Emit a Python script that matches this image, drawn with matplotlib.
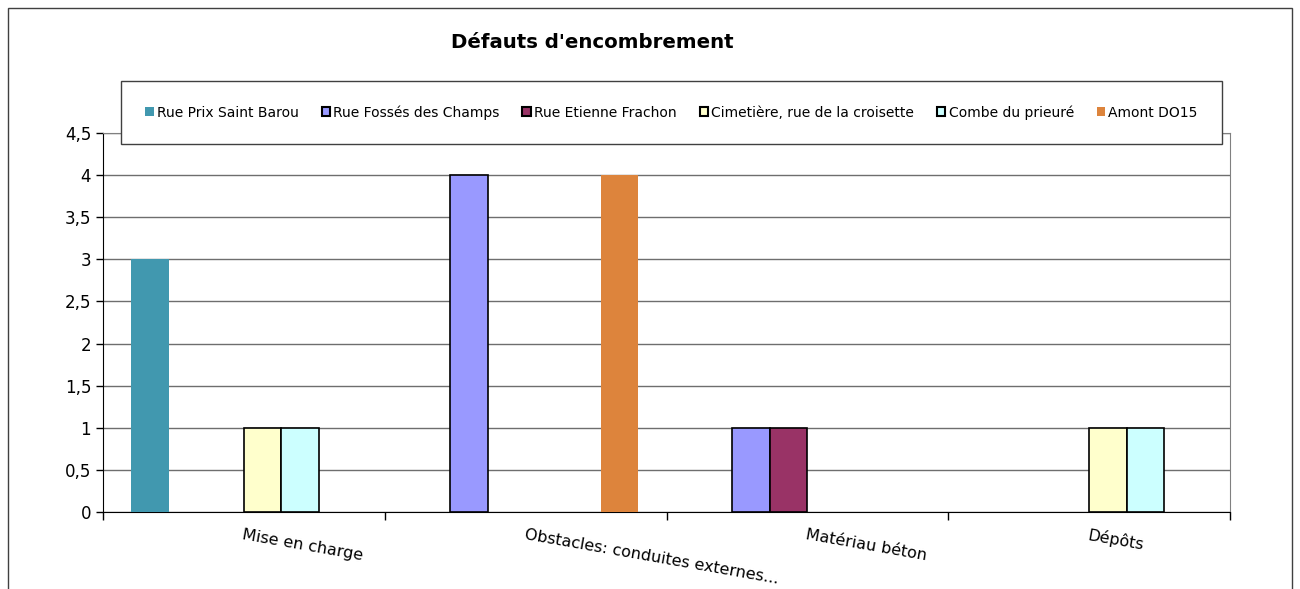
import numpy as np
import matplotlib
matplotlib.use("Agg")
import matplotlib.pyplot as plt
from matplotlib.patches import Rectangle
from matplotlib.ticker import FuncFormatter, MultipleLocator

categories = ["Mise en charge", "Obstacles: conduites externes...", "Matériau béton", "Dépôts"]
series_names = ["Rue Prix Saint Barou", "Rue Fossés des Champs", "Rue Etienne Frachon",
                "Cimetière, rue de la croisette", "Combe du prieuré", "Amont DO15"]
prix_saint_barou = [3, 0, 0, 0]
fosses_des_champs = [0, 4, 1, 0]
etienne_frachon = [0, 0, 1, 0]
cimetiere = [1, 0, 0, 1]
combe_prieure = [1, 0, 0, 1]
amont_do15 = [0, 4, 0, 0]
values = [prix_saint_barou, fosses_des_champs, etienne_frachon, cimetiere, combe_prieure, amont_do15]

colors = ["#4198AF", "#9999FF", "#993366", "#FFFFCC", "#CCFFFF", "#DD843C"]
edges = [None, "black", "black", "black", "black", None]

plt.rcParams["font.family"] = ["DejaVu Sans"]

fig = plt.figure(figsize=(13, 5.89), dpi=100)
ax = fig.add_axes([0.0792, 0.1307, 0.8670, 0.6435])

n = len(values)
w = 0.8 / n
x = np.arange(len(categories))
handles = []
for i, (vals, c, e, name) in enumerate(zip(values, colors, edges, series_names)):
    vals = np.array(vals, dtype=float)
    pos = x - 0.4 + w * (i + 0.5)
    keep = vals > 0
    ax.bar(pos[keep], vals[keep], width=w, color=c,
           edgecolor=e if e else c, linewidth=1.2 if e else 0, zorder=3)
    handles.append(Rectangle((0, 0), 1, 1, facecolor=c,
                             edgecolor=e if e else c, linewidth=1.5 if e else 0))

ax.set_xlim(-0.5, 3.5)
ax.set_ylim(0, 4.5)
ax.yaxis.set_major_locator(MultipleLocator(0.5))
ax.yaxis.set_major_formatter(FuncFormatter(lambda v, p: ("%g" % v).replace(".", ",")))
ax.grid(axis="y", color="#6e6e6e", linewidth=1.0, zorder=0)
ax.tick_params(axis="y", labelsize=12, length=5, width=1, direction="out")

ax.set_xticks(x)
ax.set_xticklabels(categories, rotation=-10, ha="left", rotation_mode="anchor", fontsize=11.5)
ax.set_xticks(np.arange(-0.5, 4, 1), minor=True)
ax.tick_params(axis="x", which="major", length=0, pad=11)
ax.tick_params(axis="x", which="minor", length=6, width=1, direction="out")

for s in ["top", "right"]:
    ax.spines[s].set_color("#808080")
for s in ["left", "bottom"]:
    ax.spines[s].set_color("black")

leg = fig.legend(handles, series_names, loc="center", ncol=6, mode="expand",
                 bbox_to_anchor=(121 / 1300, 1 - 143 / 589, 1101 / 1300, 61 / 589),
                 fontsize=10, handlelength=0.6, handleheight=0.6, handletextpad=0.25,
                 fancybox=False, framealpha=1, edgecolor="#404040",
                 borderpad=1.75, borderaxespad=0)
leg.get_frame().set_linewidth(1.0)
leg.set_zorder(10)

fig.text(0.456, 0.927, "Défauts d'encombrement", ha="center", va="center",
         fontsize=14.2, fontweight="bold")

fig.patches.append(Rectangle((8 / 1300, -0.05), 1284 / 1300, 1.05 - 8 / 589,
                             transform=fig.transFigure, fill=False,
                             edgecolor="#404040", linewidth=1.0))

fig.savefig("out.png", dpi=100)
